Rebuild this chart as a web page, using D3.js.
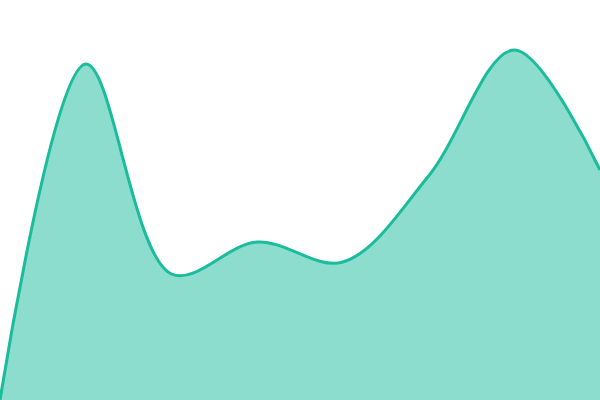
<!DOCTYPE html>
<html>
<head>
<meta charset="utf-8">
<script src="https://d3js.org/d3.v7.min.js"></script>
<style>
  body { margin: 0; background: #fff; }
  svg { display: block; }
</style>
</head>
<body>
<div id="chart"></div>
<script>
// datos de la serie (indices igualmente espaciados)
var puntos = [0, 1, 2, 3, 4, 5, 6, 7];
var valores = [0, 84, 31.5, 39.5, 34.5, 56, 87.5, 57.5];

var width = 600;
var height = 400;

var svg = d3.select('#chart').append('svg')
    .attr('width', width)
    .attr('height', height);

var x = d3.scaleLinear().domain([0, puntos.length - 1]).range([0, width]);
var y = d3.scaleLinear().domain([0, 100]).range([height, 0]);

var curva = d3.curveCatmullRom.alpha(0.5);

var area = d3.area()
    .x(function (d, i) { return x(puntos[i]); })
    .y0(height)
    .y1(function (d) { return y(d); })
    .curve(curva);

var linea = d3.line()
    .x(function (d, i) { return x(puntos[i]); })
    .y(function (d) { return y(d); })
    .curve(curva);

// relleno
svg.append('path')
    .datum(valores)
    .attr('fill', '#1abc9c')
    .attr('fill-opacity', 0.5)
    .attr('d', area);

// borde
svg.append('path')
    .datum(valores)
    .attr('fill', 'none')
    .attr('stroke', '#1abc9c')
    .attr('stroke-width', 3)
    .attr('d', linea);
</script>
</body>
</html>
